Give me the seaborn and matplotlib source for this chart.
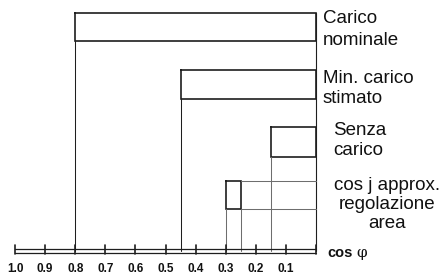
import numpy as np
import pandas as pd
import matplotlib.pyplot as plt
import seaborn as sns

# cos phi ranges of each operating condition (left edge -> right edge)
labels = [['Carico', 'nominale'],
          ['Min. carico', 'stimato'],
          ['Senza', 'carico'],
          ['cos ј approx.', 'regolazione', 'area']]
cos_lo = [0.80, 0.45, 0.15, 0.30]
cos_hi = [0.00, 0.00, 0.00, 0.25]
ticks = [1.0, 0.9, 0.8, 0.7, 0.6, 0.5, 0.4, 0.3, 0.2, 0.1, 0.0]
tick_labels = ['1.0', '0.9', '0.8', '0.7', '0.6', '0.5', '0.4', '0.3', '0.2', '0.1', '']

sns.set_theme(style='white')
plt.rcParams['font.family'] = ['Liberation Sans', 'DejaVu Sans']

W, H = 446, 274
fig = plt.figure(figsize=(W / 100, H / 100), dpi=100)
ax = fig.add_axes([0, 0, 1, 1])
# x axis: cos phi, 1.0 at px 15, 0.0 at px 316 ; y axis: pixel rows
px0, px1 = 15, 316
scale = (px1 - px0)
ax.set_xlim(1.0 + px0 / scale, -(W - px1) / scale)
ax.set_ylim(H, 0)
ax.axis('off')

def px(xp):
    # pixel column -> data x
    return -(xp - px1) / scale

# row layout (pixel rows)
row_top = [13, 70, 127, 181]
row_bot = [41, 99, 157, 209]
text_base = [23, 83, 135, 190]
text_pitch = [22, 20, 20, 19]
text_x = [323, 323, 333, 387]
text_ha = ['left', 'left', 'left', 'center']
axis_y = 251

dark = '#1e1e1e'
grey = '#6e6e6e'

# right boundary at cos = 0
ax.plot([0, 0], [row_top[0], axis_y], color=dark, lw=0.8)

for lines, lo, hi, t, b, tb, tp, tx, ha in zip(labels, cos_lo, cos_hi, row_top, row_bot,
                                               text_base, text_pitch, text_x, text_ha):
    box = pd.DataFrame({'x': [lo, hi, hi, lo, lo], 'y': [t, t, b, b, t]})
    ax.plot(box['x'], box['y'], color=dark, lw=1.2, solid_joinstyle='miter')
    ax.plot([lo, lo], [b, axis_y], color=dark if hi == 0 and lo > 0.3 else grey, lw=0.75)
    if hi > 0:
        ax.plot([hi, hi], [b, axis_y], color=grey, lw=0.75)
        ax.plot([hi, 0], [t, t], color=grey, lw=0.75)
        ax.plot([hi, 0], [b, b], color=grey, lw=0.75)
    for i, s in enumerate(lines):
        ax.text(px(tx), tb + i * tp, s, ha=ha, va='baseline', fontsize=13.5, color='#111111')

# double-line cos phi axis
ax.plot([ticks[0], ticks[-1]], [axis_y - 2, axis_y - 2], color=dark, lw=0.9)
ax.plot([ticks[0], ticks[-1]], [axis_y + 2, axis_y + 2], color=dark, lw=0.9)
for tk, tl in zip(ticks, tick_labels):
    ax.plot([tk, tk], [axis_y - 6, axis_y + 3], color=dark, lw=1.2)
    ax.text(tk, 272, tl, ha='center', va='baseline', fontsize=8.5, fontweight='bold',
            color='#111111')
ax.text(px(327), 257, 'cos', ha='left', va='baseline', fontsize=10.5, fontweight='bold',
        color='#111111')
ax.text(px(356), 257, 'φ', ha='left', va='baseline', fontsize=11,
        family=['DejaVu Serif'], color='#111111')

plt.savefig('out.png', dpi=100)
